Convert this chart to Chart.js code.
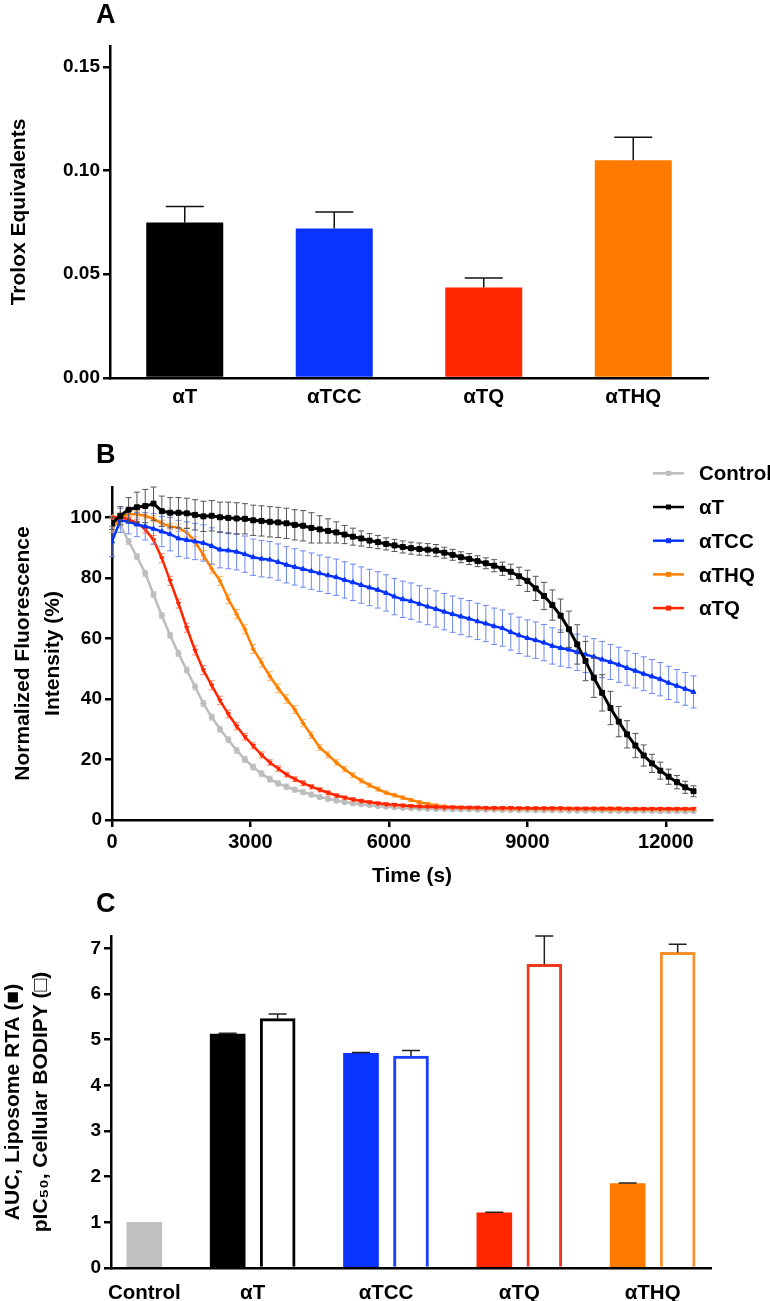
<!DOCTYPE html>
<html>
<head>
<meta charset="utf-8">
<script src="https://cdn.jsdelivr.net/npm/chart.js@4.4.0/dist/chart.umd.min.js"></script>
<style>
  html, body { margin: 0; padding: 0; background: #fff; }
  #wrap { position: relative; width: 770px; height: 1301px; }
  canvas { position: absolute; left: 0; }
</style>
</head>
<body>
<div id="wrap">
  <canvas id="panelA" width="770" height="410" style="top:0"></canvas>
  <canvas id="panelB" width="770" height="480" style="top:410px"></canvas>
  <canvas id="panelC" width="770" height="411" style="top:890px"></canvas>
</div>
<script>
// ---------- Panel A: Trolox equivalents ----------
const troloxLabels = ['αT', 'αTCC', 'αTQ', 'αTHQ'];
const troloxValues = [0.075, 0.072, 0.0436, 0.105];
const troloxErrors = [0.0077, 0.0080, 0.0046, 0.011];
const troloxTicks = [0, 0.05, 0.10, 0.15];

// ---------- Panel B: fluorescence decay ----------
const timeS = [0, 180, 360, 540, 720, 900, 1080, 1260, 1440, 1620,
  1800, 1980, 2160, 2340, 2520, 2700, 2880, 3060, 3240, 3420,
  3600, 3780, 3960, 4140, 4320, 4500, 4680, 4860, 5040, 5220,
  5400, 5580, 5760, 5940, 6120, 6300, 6480, 6660, 6840, 7020,
  7200, 7380, 7560, 7740, 7920, 8100, 8280, 8460, 8640, 8820,
  9000, 9180, 9360, 9540, 9720, 9900, 10080, 10260, 10440, 10620,
  10800, 10980, 11160, 11340, 11520, 11700, 11880, 12060, 12240, 12420, 12600];

const controlCurve = [100, 97.5, 92, 87, 81.5, 74.5, 67.5, 61, 55, 49.5,
  44, 38.5, 34, 30, 26.5, 23, 20, 17.5, 15.3, 13.5,
  12.1, 11, 10, 9.2, 8.4, 7.6, 7, 6.4, 5.9, 5.5,
  5.2, 4.9, 4.6, 4.4, 4.2, 4.0, 3.9, 3.8, 3.7, 3.6,
  3.6, 3.5, 3.5, 3.5, 3.4, 3.4, 3.4, 3.3, 3.3, 3.3,
  3.3, 3.2, 3.2, 3.2, 3.2, 3.1, 3.1, 3.1, 3.1, 3.1,
  3.0, 3.0, 3.0, 3.0, 3.0, 3.0, 2.9, 2.9, 2.9, 2.9, 2.9];
const controlErr = [0.5, 1, 1, 1, 1, 1, 1, 1, 1, 1,
  1, 1, 1, 1, 1, 1, 1, 1, 1, 1,
  0.9, 0.9, 0.8, 0.8, 0.8, 0.7, 0.7, 0.7, 0.6, 0.6,
  0.5, 0.5, 0.5, 0.5, 0.5, 0.5, 0.5, 0.5, 0.5, 0.5,
  0.5, 0.5, 0.5, 0.5, 0.5, 0.5, 0.5, 0.5, 0.5, 0.5,
  0.5, 0.5, 0.5, 0.5, 0.5, 0.5, 0.5, 0.5, 0.5, 0.5,
  0.5, 0.5, 0.5, 0.5, 0.5, 0.5, 0.5, 0.5, 0.5, 0.5, 0.5];

const alphaTCurve = [98, 100.5, 102.5, 103.3, 103.7, 104.5, 102, 101.5, 101.5, 101.3,
  100.8, 100.3, 100.5, 100, 99.8, 99.6, 99.5, 99, 98.8, 98.5,
  98.3, 98, 97.5, 97.2, 96.5, 96, 95.5, 95, 94.3, 93.6,
  93, 92.3, 91.8, 91.2, 90.7, 90.2, 89.8, 89.5, 89.3, 89,
  88.3, 87.6, 86.8, 86.2, 85.5, 84.8, 84, 83, 82, 80.5,
  79, 76.5, 74, 71, 67.5, 63, 58, 52.5, 47, 42,
  37, 32.5, 28.3, 24.6, 21.3, 18.7, 16.3, 14.3, 12.5, 10.8, 9.5];
const alphaTErr = [2, 3, 4, 5, 5.5, 5.5, 5, 5, 5, 5,
  5, 5, 5, 5, 5.2, 5.2, 5, 5, 5, 5,
  5, 5, 5, 5, 5, 4.5, 4, 3.5, 3, 2.8,
  2.5, 2.3, 2.2, 2, 2, 2, 2, 2, 2, 2,
  1.8, 1.8, 1.8, 1.8, 1.8, 1.8, 2, 2.2, 2.5, 3,
  3.5, 4, 4.5, 5, 5.5, 6, 6.5, 6.5, 6.5, 6,
  5.5, 5, 4.5, 4, 3.5, 3, 2.8, 2.5, 2.2, 2, 1.8];

const alphaTCCCurve = [92, 99, 98.5, 97.6, 97, 96.2, 95.3, 94.4, 93, 92.5,
  92, 91.5, 90.5, 89.3, 89, 88.6, 87.8, 86.8, 86.3, 86,
  85.2, 84.3, 83.6, 82.9, 82.2, 81.5, 80.8, 80.2, 79.3, 78.5,
  77.6, 76.8, 76, 75, 73.8, 72.9, 72.3, 71.4, 70.5, 69.7,
  68.8, 68, 67.2, 66.5, 65.6, 64.9, 64, 63.4, 62.1, 61,
  60.1, 59.4, 58.6, 57.5, 56.8, 56.3, 55.4, 54.7, 53.9, 53,
  52.2, 51.3, 50.2, 49.3, 48.3, 47.4, 46.5, 45.3, 44.3, 43.3, 42.3];
const alphaTCCErr = [5, 4, 4, 4, 4.5, 5, 5, 5.5, 6, 6,
  6, 6, 6, 6, 6, 6, 6, 6, 6, 6,
  6, 6, 6, 6, 6, 6, 6, 6, 6, 6,
  6, 6, 6, 6, 6, 6, 6, 6, 6, 6,
  6, 6, 6, 6, 6, 6, 6, 6, 6, 6,
  6, 6, 6, 6, 6, 6, 6, 6, 6, 6,
  5.8, 5.8, 5.7, 5.7, 5.6, 5.6, 5.5, 5.5, 5.4, 5.4, 5.3];

const alphaTHQCurve = [96, 100, 101, 101, 100.5, 99.5, 98, 97, 96.5, 95,
  92, 87.5, 83, 79, 73, 68, 63, 56.5, 52, 47.5,
  43.5, 40, 36.5, 32, 28, 24, 21.5, 19, 16.8, 14.8,
  13, 11.5, 10.2, 9, 8.2, 7.4, 6.6, 5.9, 5.3, 4.8,
  4.5, 4.3, 4.1, 4.0, 3.9, 3.9, 3.8, 3.8, 3.8, 3.7,
  3.7, 3.7, 3.7, 3.6, 3.6, 3.6, 3.6, 3.6, 3.6, 3.5,
  3.5, 3.5, 3.5, 3.5, 3.5, 3.5, 3.5, 3.5, 3.5, 3.5, 3.5];
const alphaTHQErr = [1, 1, 1, 1, 1, 1, 1, 1, 1.2, 1.5,
  1.5, 1.5, 1.5, 1.5, 1.5, 1.5, 1.5, 1.5, 1.5, 1.5,
  1.5, 1.4, 1.3, 1.2, 1.1, 1, 1, 0.9, 0.9, 0.8,
  0.8, 0.7, 0.7, 0.6, 0.6, 0.6, 0.5, 0.5, 0.5, 0.5,
  0.4, 0.4, 0.4, 0.4, 0.4, 0.4, 0.4, 0.4, 0.4, 0.4,
  0.4, 0.4, 0.4, 0.4, 0.4, 0.4, 0.4, 0.4, 0.4, 0.4,
  0.4, 0.4, 0.4, 0.4, 0.4, 0.4, 0.4, 0.4, 0.4, 0.4, 0.4];

const alphaTQCurve = [100, 100, 99.3, 98.2, 96, 92.5, 86.5, 79, 71.5, 63.5,
  56, 49.5, 44.5, 39.5, 35, 31, 27.5, 24.5, 21.5, 19,
  17, 15, 13.5, 12.2, 11, 10, 9, 8.1, 7.4, 6.8,
  6.3, 5.9, 5.5, 5.2, 5.0, 4.8, 4.6, 4.5, 4.4, 4.3,
  4.2, 4.2, 4.1, 4.1, 4.1, 4.0, 4.0, 4.0, 4.0, 3.9,
  3.9, 3.9, 3.9, 3.9, 3.9, 3.8, 3.8, 3.8, 3.8, 3.8,
  3.8, 3.8, 3.7, 3.7, 3.7, 3.7, 3.7, 3.7, 3.7, 3.7, 3.7];
const alphaTQErr = [0.5, 0.8, 1, 1, 1.2, 1.5, 1.5, 1.5, 1.5, 1.5,
  1.5, 1.5, 1.5, 1.4, 1.3, 1.2, 1.1, 1, 1, 0.9,
  0.9, 0.8, 0.8, 0.8, 0.7, 0.7, 0.7, 0.6, 0.6, 0.6,
  0.6, 0.5, 0.5, 0.5, 0.5, 0.5, 0.5, 0.5, 0.5, 0.5,
  0.5, 0.5, 0.5, 0.5, 0.5, 0.5, 0.5, 0.5, 0.5, 0.5,
  0.5, 0.5, 0.5, 0.5, 0.5, 0.5, 0.5, 0.5, 0.5, 0.5,
  0.5, 0.5, 0.5, 0.5, 0.5, 0.5, 0.5, 0.5, 0.5, 0.5, 0.5];

const fluorTicksY = [0, 20, 40, 60, 80, 100];
const timeTicks = [0, 3000, 6000, 9000, 12000];

// ---------- Panel C: AUC and pIC50 ----------
const rtaLabels = ['Control', 'αT', 'αTCC', 'αTQ', 'αTHQ'];
const liposomeAUC = [1.0, 5.12, 4.70, 1.21, 1.85];
const liposomeErr = [null, 0.02, 0.02, 0.01, 0.01];
const bodipyPIC50 = [null, 5.46, 4.64, 6.65, 6.91];
const bodipyErr = [null, 0.10, 0.12, 0.62, 0.18];
const rtaTicks = [0, 1, 2, 3, 4, 5, 6, 7];

// layout of the grouped bars in panel C (axis units)
const slotCenters = [2, 8.5, 16.5, 24.5, 32.5];
const pairOffset = 1.5;

const FONT = "'Liberation Sans', Arial, Helvetica, sans-serif";
Chart.defaults.font.family = FONT;
Chart.defaults.font.weight = 'bold';
Chart.defaults.color = '#000';

// error bars drawn from a dataset's "errors" array
function drawErrors(chart, index) {
    const ds = chart.data.datasets[index];
    if (!ds.errors) return;
    const meta = chart.getDatasetMeta(index);
    const yScale = chart.scales[meta.yAxisID];
    const ctx = chart.ctx;
    const half = (ds.capWidth || 6) / 2;
    ctx.save();
    ctx.strokeStyle = ds.errorColor || '#000';
    ctx.lineWidth = ds.errorWidth || 1;
    meta.data.forEach((el, i) => {
        const err = ds.errors[i];
        const v = meta.controller.getParsed(i).y;
        if (err == null || v == null || isNaN(v)) return;
        const x = el.x;
        const top = yScale.getPixelForValue(v + err);
        const bottom = ds.errorBoth ? yScale.getPixelForValue(v - err) : el.y;
        ctx.beginPath();
        ctx.moveTo(x, bottom);
        ctx.lineTo(x, top);
        ctx.moveTo(x - half, top);
        ctx.lineTo(x + half, top);
        if (ds.errorBoth) {
            ctx.moveTo(x - half, bottom);
            ctx.lineTo(x + half, bottom);
        }
        ctx.stroke();
    });
    ctx.restore();
}

const errorBars = {
    id: 'errorBars',
    beforeDatasetDraw(chart, args) {
        if (chart.data.datasets[args.index].errorBehind) drawErrors(chart, args.index);
    },
    afterDatasetDraw(chart, args) {
        if (!chart.data.datasets[args.index].errorBehind) drawErrors(chart, args.index);
    }
};

const panelLetter = {
    id: 'panelLetter',
    afterDraw(chart, args, opts) {
        if (!opts.text) return;
        const ctx = chart.ctx;
        ctx.save();
        ctx.font = 'bold 27px ' + FONT;
        ctx.fillStyle = '#000';
        ctx.textBaseline = 'alphabetic';
        ctx.fillText(opts.text, opts.x, opts.y);
        ctx.restore();
    }
};

Chart.register(errorBars, panelLetter);

// shared axis look
const axisGrid = { display: true, drawOnChartArea: false, drawTicks: true, tickLength: 7, lineWidth: 2.5, color: '#000' };
const axisBorder = { display: true, width: 2.5, color: '#000' };
const tickFont = { size: 19, weight: 'bold' };
const labelFont = { size: 20.5, weight: 'bold' };
const titleFont = { size: 21, weight: 'bold' };
const onlyTicks = list => scale => { scale.ticks = list.map(v => ({ value: v })); };

// ---------- Panel A ----------
new Chart(document.getElementById('panelA'), {
    type: 'bar',
    data: {
        labels: troloxLabels,
        datasets: [{
            data: troloxValues,
            backgroundColor: ['#000000', '#0a33ff', '#ff2600', '#ff7b00'],
            borderWidth: 0,
            barPercentage: 0.515,
            categoryPercentage: 1,
            errors: troloxErrors,
            capWidth: 38,
            errorWidth: 1.5,
            errorColor: '#111'
        }]
    },
    options: {
        responsive: false,
        animation: false,
        layout: { padding: { top: 46, right: 62, left: 0, bottom: 0 } },
        plugins: {
            legend: { display: false },
            tooltip: { enabled: false },
            panelLetter: { text: 'A', x: 96, y: 23 }
        },
        scales: {
            x: {
                grid: { display: false, drawTicks: false },
                border: axisBorder,
                ticks: { font: labelFont, padding: 7, maxRotation: 0 },
                afterFit: s => { s.height = 32; }
            },
            y: {
                min: 0,
                max: 0.16,
                grid: axisGrid,
                border: axisBorder,
                afterBuildTicks: onlyTicks(troloxTicks),
                ticks: { font: tickFont, padding: 3, callback: v => v.toFixed(2) },
                title: { display: true, text: 'Trolox Equivalents', font: titleFont, padding: { top: 7, bottom: 0 } },
                afterFit: s => { s.width = 110; }
            }
        }
    }
});

// ---------- Panel B ----------
const seriesB = [
    { name: 'Control', values: controlCurve, errors: controlErr, color: '#bdbdbd', errColor: '#d0d0d0', pointStyle: 'circle', radius: 2.6, rotation: 0, width: 2.5 },
    { name: 'αT', values: alphaTCurve, errors: alphaTErr, color: '#000000', errColor: '#555555', pointStyle: 'rect', radius: 3.5, rotation: 0, width: 3 },
    { name: 'αTCC', values: alphaTCCCurve, errors: alphaTCCErr, color: '#0433ff', errColor: '#6d88f2', pointStyle: 'triangle', radius: 2.8, rotation: 0, width: 2.5 },
    { name: 'αTHQ', values: alphaTHQCurve, errors: alphaTHQErr, color: '#ff8000', errColor: '#ffb366', pointStyle: 'rectRot', radius: 2, rotation: 0, width: 2.5 },
    { name: 'αTQ', values: alphaTQCurve, errors: alphaTQErr, color: '#ff2600', errColor: '#ff8a70', pointStyle: 'triangle', radius: 2.5, rotation: 180, width: 2.5 }
];

// draw order: first in the list ends up on top
const drawOrderB = ['αT', 'αTCC', 'αTQ', 'αTHQ', 'Control'];

const legendB = {
    id: 'legendB',
    afterDraw(chart) {
        const ctx = chart.ctx;
        ctx.save();
        seriesB.forEach((s, i) => {
            const y = 63.3 + i * 33.7;
            ctx.strokeStyle = s.color;
            ctx.fillStyle = s.color;
            ctx.lineWidth = 2.5;
            ctx.beginPath();
            ctx.moveTo(653, y);
            ctx.lineTo(684, y);
            ctx.stroke();
            ctx.fillRect(666, y - 2.5, 5, 5);
            ctx.fillStyle = '#000';
            ctx.font = 'bold 20.5px ' + FONT;
            ctx.textBaseline = 'middle';
            ctx.fillText(s.name, 699, y + 1.5);
        });
        ctx.restore();
    }
};

new Chart(document.getElementById('panelB'), {
    type: 'line',
    data: {
        datasets: drawOrderB.map(name => {
            const s = seriesB.find(d => d.name === name);
            return {
                label: s.name,
                data: timeS.map((t, i) => ({ x: t, y: s.values[i] })),
                borderColor: s.color,
                backgroundColor: s.color,
                borderWidth: s.width,
                pointStyle: s.pointStyle,
                pointRadius: s.radius,
                pointRotation: s.rotation,
                pointBorderWidth: 1,
                pointBorderColor: s.color,
                pointBackgroundColor: s.color,
                tension: 0,
                errors: s.errors,
                errorBoth: true,
                errorBehind: true,
                capWidth: 6,
                errorWidth: 1,
                errorColor: s.errColor
            };
        })
    },
    options: {
        responsive: false,
        animation: false,
        layout: { padding: { top: 77, right: 58, left: 0, bottom: 0 } },
        plugins: {
            legend: { display: false },
            tooltip: { enabled: false },
            panelLetter: { text: 'B', x: 96, y: 53 }
        },
        scales: {
            x: {
                type: 'linear',
                min: 0,
                max: 13000,
                grid: axisGrid,
                border: axisBorder,
                afterBuildTicks: onlyTicks(timeTicks),
                ticks: { font: { size: 20, weight: 'bold' }, padding: 3, maxRotation: 0, autoSkip: false, callback: v => String(v) },
                title: { display: true, text: 'Time (s)', font: titleFont, padding: { top: 0, bottom: 1 } },
                afterFit: s => { s.height = 70; }
            },
            y: {
                min: 0,
                max: 110,
                grid: axisGrid,
                border: axisBorder,
                afterBuildTicks: onlyTicks(fluorTicksY),
                ticks: { font: tickFont, padding: 3, callback: v => String(v) },
                title: { display: true, text: ['Normalized Fluorescence', 'Intensity (%)'], font: { size: 21, weight: 'bold', lineHeight: 1.4 }, padding: { top: 9, bottom: 0 } },
                afterFit: s => { s.width = 112; }
            }
        }
    },
    plugins: [legendB]
});

// ---------- Panel C ----------
const filledColors = ['#c0c0c0', '#000000', '#0a33ff', '#ff2600', '#ff7b00'];
const openColors = ['#000000', '#1a3fff', '#ee3a1c', '#f7902f'];

const liposomePts = rtaLabels.map((_, i) => ({
    x: i === 0 ? slotCenters[0] : slotCenters[i] - pairOffset,
    y: liposomeAUC[i]
}));
const bodipyIdx = rtaLabels.map((_, i) => i).filter(i => bodipyPIC50[i] != null);

new Chart(document.getElementById('panelC'), {
    type: 'bar',
    data: {
        datasets: [{
            label: 'AUC, Liposome RTA',
            data: liposomePts,
            backgroundColor: filledColors,
            borderWidth: 0,
            grouped: false,
            barThickness: 35,
            errors: liposomeErr,
            capWidth: 18,
            errorWidth: 1.5,
            errorColor: '#222'
        }, {
            label: 'pIC50, Cellular BODIPY',
            data: bodipyIdx.map(i => ({ x: slotCenters[i] + pairOffset, y: bodipyPIC50[i] })),
            backgroundColor: '#ffffff',
            borderColor: openColors,
            borderWidth: 3,
            grouped: false,
            barThickness: 35,
            errors: bodipyIdx.map(i => bodipyErr[i]),
            capWidth: 18,
            errorWidth: 1.5,
            errorColor: '#222'
        }]
    },
    options: {
        responsive: false,
        animation: false,
        layout: { padding: { top: 46, right: 59, left: 0, bottom: 0 } },
        plugins: {
            legend: { display: false },
            tooltip: { enabled: false },
            panelLetter: { text: 'C', x: 96, y: 22 }
        },
        scales: {
            x: {
                type: 'linear',
                min: 0,
                max: 36,
                offset: false,
                grid: { display: false, drawTicks: false },
                border: axisBorder,
                afterBuildTicks: onlyTicks(slotCenters),
                ticks: { font: labelFont, padding: 13, maxRotation: 0, autoSkip: false, callback: (v, i) => rtaLabels[i] },
                afterFit: s => { s.height = 33; }
            },
            y: {
                min: 0,
                max: 7.27,
                grid: axisGrid,
                border: axisBorder,
                afterBuildTicks: onlyTicks(rtaTicks),
                ticks: { font: tickFont, padding: 3, callback: v => String(v) },
                title: { display: true, text: ['AUC, Liposome RTA (■)', 'pIC₅₀, Cellular BODIPY (□)'], font: { size: 21, weight: 'bold', lineHeight: 1.3 }, padding: { top: 0, bottom: 0 } },
                afterFit: s => { s.width = 111; }
            }
        }
    }
});
</script>
</body>
</html>
